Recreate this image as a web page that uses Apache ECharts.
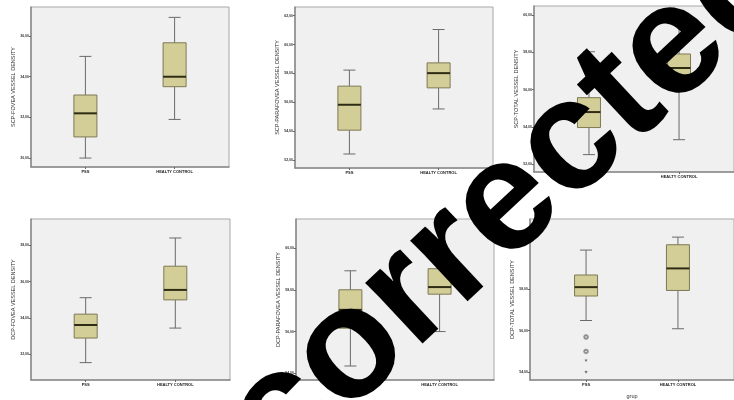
<!DOCTYPE html>
<html><head><meta charset="utf-8">
<script src="https://cdn.jsdelivr.net/npm/echarts@6/dist/echarts.min.js"></script>
<style>html,body{margin:0;padding:0;background:#fff}#c{width:734px;height:400px}</style>
</head><body><div id="c"></div><script>
// ---- data ----
const categories = ['PSS', 'HEALTY CONTROL'];
const axisNames = ['SCP-FOVEA VESSEL DENSITY', 'SCP-PARAFOVEA VESSEL DENSITY', 'SCP-TOTAL VESSEL DENSITY',
  'DCP-FOVEA VESSEL DENSITY', 'DCP-PARAFOVEA VESSEL DENSITY', 'DCP-TOTAL VESSEL DENSITY'];
const groupAxisName = 'grup';
// each box: [min, Q1, median, Q3, max]
const scpFoveaPSS = [30.00, 31.04, 32.20, 33.10, 35.00];
const scpFoveaHC  = [31.90, 33.51, 34.00, 35.67, 36.92];
const scpParaPSS  = [52.42, 54.07, 55.83, 57.12, 58.23];
const scpParaHC   = [55.54, 57.00, 58.02, 58.73, 61.04];
const scpTotalPSS = [52.52, 53.97, 54.80, 55.57, 58.03];
const scpTotalHC  = [53.32, 56.00, 57.16, 57.91, 59.64];
const dcpFoveaPSS = [31.52, 32.88, 33.60, 34.20, 35.11];
const dcpFoveaHC  = [33.43, 34.99, 35.54, 36.85, 38.41];
const dcpParaPSS  = [54.35, 56.16, 57.04, 58.00, 58.91];
const dcpParaHC   = [56.00, 57.79, 58.13, 59.01, 60.24];
const dcpTotalPSS = [56.49, 57.68, 58.11, 58.70, 59.91];
const dcpTotalHC  = [56.09, 57.95, 59.02, 60.17, 60.54];
const dcpTotalOutlierCircles = [55.69, 54.99];
const dcpTotalOutlierStars = [54.57, 54.00];
// tick labels
const ticksScpFovea = [30, 32, 34, 36];
const ticksScpPara  = [52, 54, 56, 58, 60, 62];
const ticksScpTotal = [52, 54, 56, 58, 60];
const ticksDcpFovea = [32, 34, 36, 38];
const ticksDcpPara  = [54, 56, 58, 60];
const ticksDcpTotal = [54, 56, 58];
const watermark = 'corrected';

const boxes = [
  [scpFoveaPSS, scpFoveaHC], [scpParaPSS, scpParaHC], [scpTotalPSS, scpTotalHC],
  [dcpFoveaPSS, dcpFoveaHC], [dcpParaPSS, dcpParaHC], [dcpTotalPSS, dcpTotalHC]
];
const ticks = [ticksScpFovea, ticksScpPara, ticksScpTotal, ticksDcpFovea, ticksDcpPara, ticksDcpTotal];
const catIndex = categories.map((c, k) => k);

// ---- layout ----
const layout = [
  {left: 31, top: 7, width: 198, height: 160, min: 29.56, max: 37.43},
  {left: 295, top: 7, width: 198, height: 161, min: 51.45, max: 62.6},
  {left: 534, top: 6, width: 207, height: 166, min: 51.59, max: 60.48},
  {left: 31, top: 219, width: 199, height: 161, min: 30.56, max: 39.46},
  {left: 296, top: 219, width: 198, height: 161, min: 53.68, max: 61.39},
  {left: 530, top: 219, width: 209, height: 164, min: 53.6, max: 61.42}
];
const xMin = -0.61, xMax = 1.61;

const fmt = v => Number(v).toFixed(2).replace('.', ',');

function renderBox(params, api) {
  const c = api.value(0);
  const p = [1, 2, 3, 4, 5].map(i => api.coord([c, api.value(i)]));
  const x = p[0][0];
  const hw = 11.5, cw = 6;
  const yMin = p[0][1], yQ1 = p[1][1], yMed = p[2][1], yQ3 = p[3][1], yMax = p[4][1];
  const ws = {stroke: '#6a6a6a', lineWidth: 1};
  return {type: 'group', children: [
    {type: 'line', shape: {x1: x, y1: yMax, x2: x, y2: yQ3}, style: ws},
    {type: 'line', shape: {x1: x, y1: yQ1, x2: x, y2: yMin}, style: ws},
    {type: 'line', shape: {x1: x - cw, y1: yMax, x2: x + cw, y2: yMax}, style: ws},
    {type: 'line', shape: {x1: x - cw, y1: yMin, x2: x + cw, y2: yMin}, style: ws},
    {type: 'rect', shape: {x: x - hw, y: yQ3, width: 2 * hw, height: yQ1 - yQ3},
      style: {fill: '#d3ce97', stroke: '#7d7953', lineWidth: 1}},
    {type: 'line', shape: {x1: x - hw, y1: yMed, x2: x + hw, y2: yMed},
      style: {stroke: '#2e2c14', lineWidth: 2}}
  ]};
}

const grid = [], xAxis = [], yAxis = [], series = [];
layout.forEach((L, i) => {
  grid.push({left: L.left, top: L.top, width: L.width, height: L.height, show: true,
    backgroundColor: '#f0f0f0', borderColor: '#a8a8a8', borderWidth: 1});
  xAxis.push({type: 'value', gridIndex: i, min: xMin, max: xMax,
    name: i === 5 ? groupAxisName : '', nameLocation: 'middle', nameGap: 13,
    nameTextStyle: {fontSize: 5.5, color: '#333', fontFamily: 'Liberation Sans'},
    axisLine: {show: true, onZero: false, lineStyle: {color: '#8a8a8a', width: 1.5}},
    axisTick: {show: true, length: 2, customValues: catIndex, lineStyle: {color: '#666'}},
    axisLabel: {customValues: catIndex, formatter: v => categories[Math.round(v)],
      fontSize: 4, fontWeight: 'bold', color: '#222', margin: 3, fontFamily: 'Liberation Sans'},
    splitLine: {show: false}});
  yAxis.push({type: 'value', gridIndex: i, min: L.min, max: L.max,
    name: axisNames[i], nameLocation: 'middle', nameRotate: 90, nameGap: 15,
    nameTextStyle: {fontSize: 5.5, color: '#333', fontFamily: 'Liberation Sans'},
    axisLine: {show: true, onZero: false, lineStyle: {color: '#8a8a8a', width: 1.5}},
    axisTick: {show: true, length: 2, customValues: ticks[i], lineStyle: {color: '#666'}},
    axisLabel: {customValues: ticks[i], formatter: fmt, fontSize: 3.5, fontWeight: 'bold',
      color: '#333', margin: 2, fontFamily: 'Liberation Sans'},
    splitLine: {show: false}});
  series.push({type: 'custom', xAxisIndex: i, yAxisIndex: i, renderItem: renderBox,
    encode: {x: 0, y: [1, 2, 3, 4, 5]},
    data: catIndex.map(k => [k].concat(boxes[i][k])), silent: true});
});
series.push({type: 'scatter', xAxisIndex: 5, yAxisIndex: 5, symbol: 'emptyCircle', symbolSize: 3.5,
  itemStyle: {color: '#777', borderWidth: 0.8}, data: dcpTotalOutlierCircles.map(v => [0, v]), silent: true});
series.push({type: 'scatter', xAxisIndex: 5, yAxisIndex: 5,
  symbol: 'path://M50,0 L61,35 L98,35 L68,57 L79,91 L50,70 L21,91 L32,57 L2,35 L39,35 Z', symbolSize: 3.5,
  itemStyle: {color: '#444'}, data: dcpTotalOutlierStars.map(v => [0, v]), silent: true});

const chart = echarts.init(document.getElementById('c'), null, {renderer: 'canvas'});
chart.setOption({
  animation: false,
  backgroundColor: '#ffffff',
  grid, xAxis, yAxis, series,
  graphic: [{type: 'text', x: 513, y: 199, rotation: 0.753, z: 100, silent: true,
    style: {text: watermark, fontSize: 158, fontWeight: 'bold', fontFamily: 'Liberation Sans',
      fill: '#000', align: 'center', verticalAlign: 'middle', textAlign: 'center', textVerticalAlign: 'middle'}}]
});
</script></body></html>
